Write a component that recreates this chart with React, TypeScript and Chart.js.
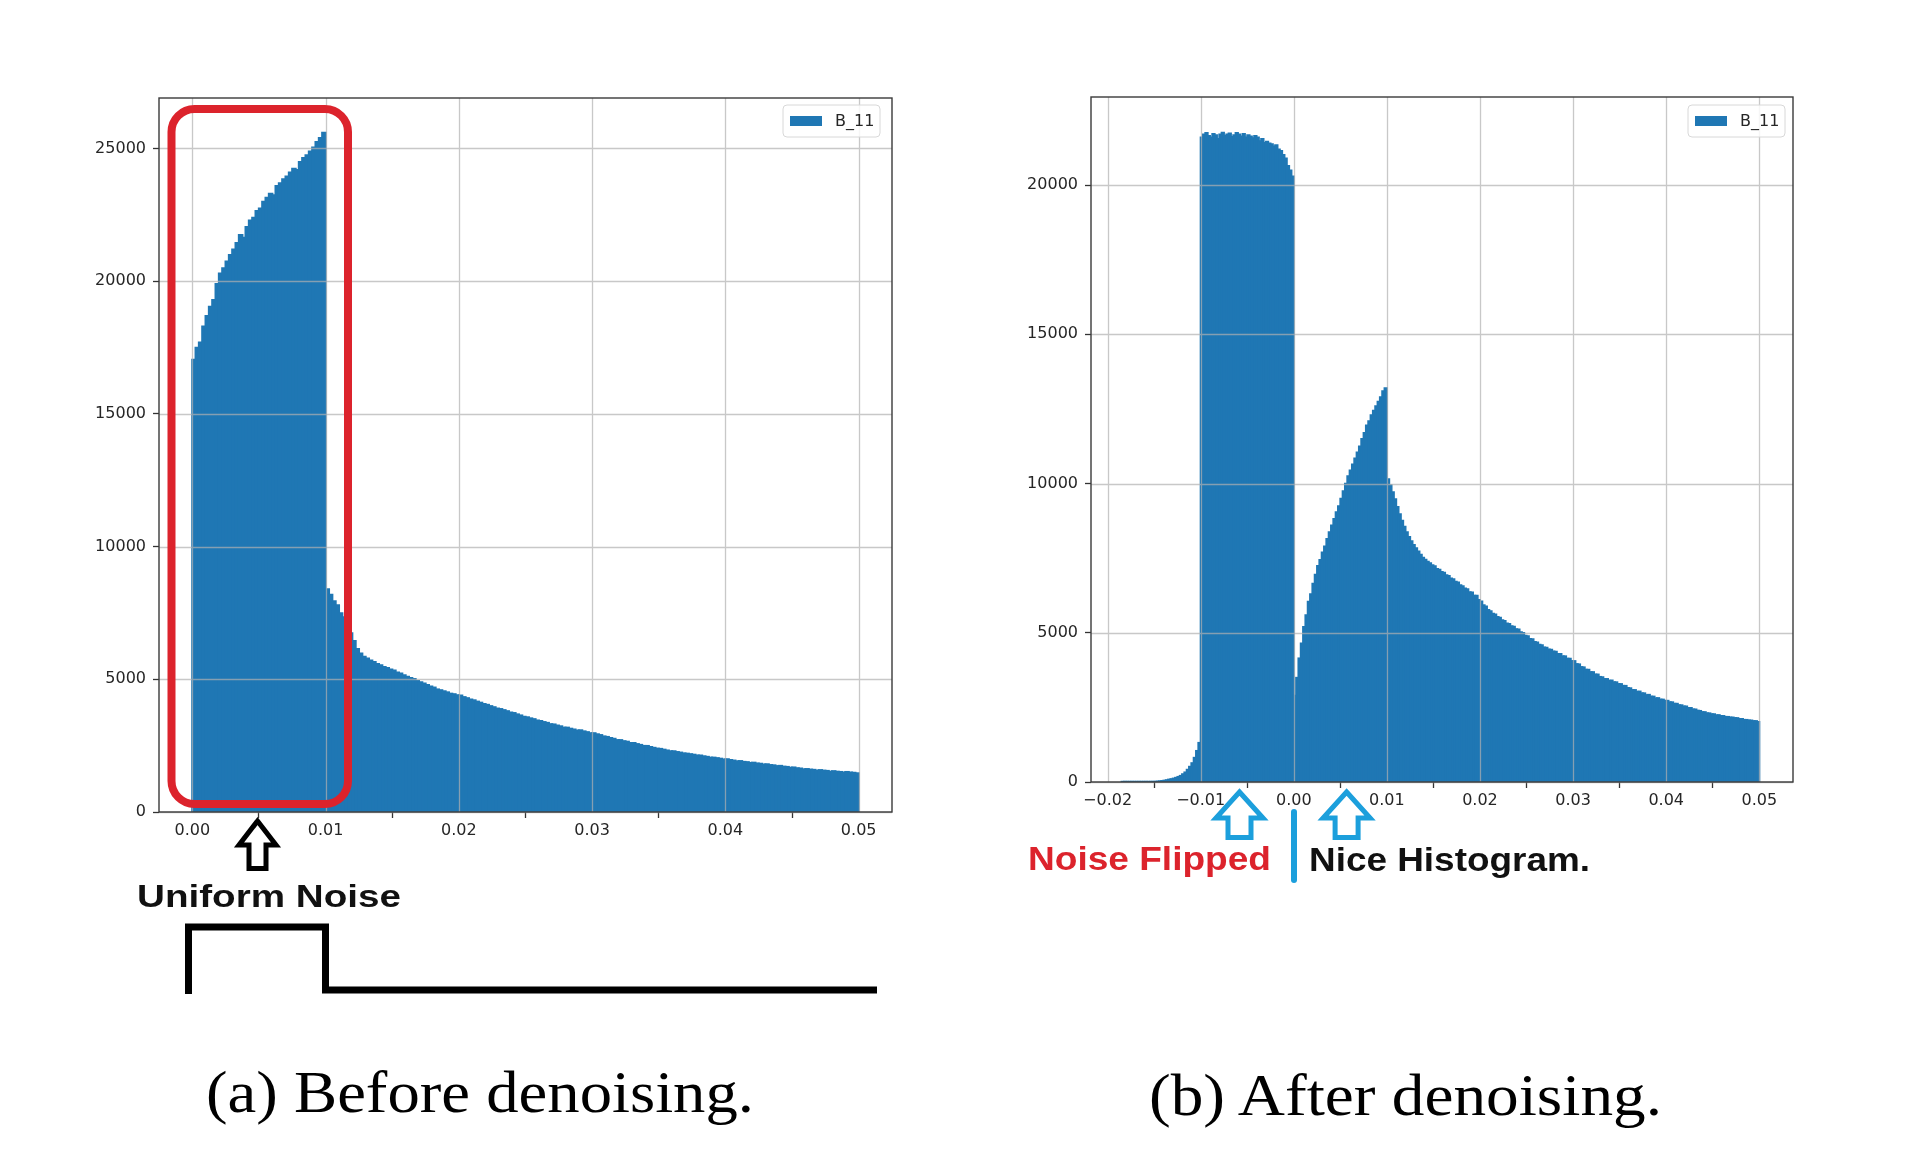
import React, { useEffect, useRef } from 'react';
import { Chart, registerables } from 'chart.js';

Chart.register(...registerables);

// ---------------- data ----------------
const seriesLabel = 'B_11';
const binWidth = 0.00025;

// (a) before denoising: 200 bins from 0.00 to 0.05
const leftFirstEdge = 0;
const leftCounts = [
  // 0.000 - 0.010 (uniform-noise block)
  17050, 17500, 17700, 18300, 18700, 19050, 19300, 19900, 20300, 20500,
  20750, 21000, 21200, 21450, 21750, 21650, 22050, 22300, 22400, 22650,
  22750, 23000, 23150, 23300, 23250, 23600, 23700, 23850, 23950, 24100,
  24250, 24200, 24500, 24650, 24750, 24900, 25050, 25250, 25400, 25600,
  // 0.010 - 0.013
  8400, 8200, 7950, 7800, 7500, 7350, 7050, 6750, 6450, 6150, 5980, 5860,
  // 0.013 - 0.050
  5790, 5720, 5660, 5590, 5540, 5470, 5440, 5380, 5340, 5270,
  5230, 5160, 5110, 5060, 5020, 4950, 4900, 4850, 4800, 4740,
  4700, 4630, 4600, 4560, 4520, 4470, 4450, 4410, 4400, 4340,
  4300, 4250, 4220, 4170, 4130, 4080, 4050, 4000, 3960, 3910,
  3890, 3850, 3810, 3760, 3740, 3690, 3650, 3600, 3580, 3540,
  3510, 3460, 3440, 3400, 3370, 3320, 3310, 3270, 3240, 3190,
  3190, 3150, 3120, 3080, 3090, 3050, 3020, 2980, 2980, 2940,
  2910, 2860, 2840, 2800, 2770, 2720, 2720, 2680, 2660, 2610,
  2610, 2570, 2540, 2500, 2500, 2460, 2430, 2400, 2390, 2360,
  2330, 2300, 2300, 2270, 2250, 2220, 2210, 2190, 2170, 2140,
  2140, 2110, 2090, 2060, 2060, 2040, 2020, 1990, 2000, 1970,
  1950, 1920, 1930, 1900, 1890, 1860, 1870, 1840, 1830, 1800,
  1810, 1780, 1770, 1740, 1750, 1720, 1710, 1680, 1690, 1660,
  1650, 1620, 1630, 1610, 1600, 1570, 1590, 1570, 1560, 1530,
  1550, 1530, 1520, 1500, 1520, 1500, 1490, 1470,
];

// (b) after denoising: 274 bins from -0.0185 to 0.05
const rightFirstEdge = -0.0185;
const rightCounts = [
  // -0.0185 - -0.010 (left tail)
  1, 1, 1, 2, 2, 2, 3, 3, 4, 5, 6, 8, 10, 13, 18, 25, 32,
  42, 55, 70, 90, 105, 125, 150, 180, 215, 270, 330, 420, 520, 640, 820, 1050, 1320,
  // -0.010 - 0.000 (flipped noise block)
  21600, 21700, 21750, 21650, 21600, 21720, 21680, 21550, 21700, 21760,
  21650, 21700, 21740, 21620, 21680, 21750, 21700, 21640, 21720, 21600,
  21680, 21640, 21580, 21650, 21600, 21480, 21550, 21420, 21460, 21400,
  21380, 21300, 21340, 21200, 21150, 21020, 20900, 20650, 20500, 20300,
  // 0.000 - 0.010 (rising part)
  2900, 3500, 4150, 4650, 5200, 5600, 6050, 6300, 6650, 6950,
  7250, 7450, 7700, 7900, 8150, 8380, 8600, 8820, 9050, 9250,
  9500, 9750, 10000, 10250, 10450, 10650, 10850, 11050, 11250, 11500,
  11700, 11950, 12100, 12300, 12450, 12600, 12750, 12900, 13100, 13200,
  // 0.010 - 0.014
  10150, 9950, 9720, 9480, 9220, 8980, 8760, 8560, 8380, 8220, 8080, 7950, 7840, 7730, 7620, 7520,
  // 0.014 - 0.050
  7460, 7390, 7340, 7270, 7240, 7150, 7120, 7050, 7020, 6940,
  6910, 6830, 6800, 6720, 6690, 6600, 6570, 6490, 6470, 6370,
  6360, 6250, 6250, 6110, 6060, 5930, 5890, 5770, 5730, 5650,
  5620, 5540, 5510, 5430, 5400, 5320, 5300, 5230, 5210, 5130,
  5120, 5030, 5000, 4910, 4890, 4800, 4790, 4700, 4680, 4610,
  4590, 4520, 4510, 4450, 4440, 4380, 4370, 4300, 4300, 4220,
  4220, 4140, 4140, 4060, 4060, 3960, 3950, 3860, 3850, 3770,
  3770, 3690, 3690, 3610, 3610, 3530, 3520, 3460, 3460, 3400,
  3410, 3350, 3350, 3290, 3290, 3230, 3230, 3160, 3150, 3090,
  3090, 3030, 3040, 2980, 2980, 2920, 2930, 2870, 2870, 2810,
  2820, 2770, 2770, 2730, 2730, 2680, 2680, 2630, 2630, 2580,
  2580, 2540, 2540, 2490, 2490, 2440, 2440, 2400, 2390, 2350,
  2350, 2310, 2310, 2280, 2280, 2240, 2250, 2220, 2220, 2190,
  2190, 2170, 2170, 2150, 2150, 2120, 2120, 2090, 2090, 2070,
  2070, 2050, 2050, 2020,
];

const leftXTicks = [0, 0.01, 0.02, 0.03, 0.04, 0.05];
const leftYTicks = [0, 5000, 10000, 15000, 20000, 25000];
const rightXTicks = [-0.02, -0.01, 0, 0.01, 0.02, 0.03, 0.04, 0.05];
const rightYTicks = [0, 5000, 10000, 15000, 20000];

const BAR_COLOR = '#1f77b4';
const TICK_FONT = { family: "'DejaVu Sans', sans-serif", size: 16 };

function fmtX(v: number) {
  const s = Math.abs(v).toFixed(2);
  return v < -1e-12 ? '\u2212' + s : s;
}

const overlayPlugin = {
  id: 'mplOverlay',
  afterDatasetsDraw(chart: any, _args: any, opts: any) {
    const { ctx, chartArea: a, scales } = chart;
    ctx.save();
    // grid on top of bars (as in the matplotlib figure)
    ctx.strokeStyle = 'rgba(176,176,176,0.7)';
    ctx.lineWidth = 1.3;
    ctx.beginPath();
    scales.x.ticks.forEach((t: any) => {
      const px = Math.round(scales.x.getPixelForValue(t.value)) + 0.5;
      ctx.moveTo(px, a.top);
      ctx.lineTo(px, a.bottom);
    });
    scales.y.ticks.forEach((t: any) => {
      const py = Math.round(scales.y.getPixelForValue(t.value)) + 0.5;
      ctx.moveTo(a.left, py);
      ctx.lineTo(a.right, py);
    });
    ctx.stroke();
    // frame
    ctx.strokeStyle = '#3a3a3a';
    ctx.lineWidth = 1.4;
    ctx.strokeRect(a.left, a.top, a.right - a.left, a.bottom - a.top);
    // legend
    const bw = 97, bh = 32;
    const bx = a.right - (opts.legendRight ?? 10) - bw;
    const by = a.top + (opts.legendTop ?? 8);
    ctx.beginPath();
    const r = 4;
    ctx.moveTo(bx + r, by);
    ctx.lineTo(bx + bw - r, by);
    ctx.quadraticCurveTo(bx + bw, by, bx + bw, by + r);
    ctx.lineTo(bx + bw, by + bh - r);
    ctx.quadraticCurveTo(bx + bw, by + bh, bx + bw - r, by + bh);
    ctx.lineTo(bx + r, by + bh);
    ctx.quadraticCurveTo(bx, by + bh, bx, by + bh - r);
    ctx.lineTo(bx, by + r);
    ctx.quadraticCurveTo(bx, by, bx + r, by);
    ctx.closePath();
    ctx.fillStyle = 'rgba(255,255,255,0.85)';
    ctx.fill();
    ctx.strokeStyle = '#d8d8d8';
    ctx.lineWidth = 1;
    ctx.stroke();
    const ds = chart.data.datasets[0];
    ctx.fillStyle = ds.backgroundColor;
    ctx.fillRect(bx + 7, by + 11, 32, 10);
    ctx.fillStyle = '#262626';
    ctx.font = "16px 'DejaVu Sans', sans-serif";
    ctx.textBaseline = 'middle';
    ctx.textAlign = 'left';
    ctx.fillText(ds.label, bx + 52, by + bh / 2 + 1);
    ctx.restore();
  },
};

interface HistProps {
  left: number; top: number; width: number; height: number;
  areaLeft: number; areaTop: number; areaRight: number; areaBottom: number;
  firstEdge: number; counts: number[];
  xMin: number; xMax: number; yMax: number;
  xTicks: number[]; yTicks: number[];
  legendRight: number; legendTop: number;
}

function Histogram(p: HistProps) {
  const ref = useRef<HTMLCanvasElement | null>(null);
  useEffect(() => {
    if (!ref.current) return;
    const points = p.counts.map((c, i) => ({ x: p.firstEdge + (i + 0.5) * binWidth, y: c }));
    const yAxisWidth = p.areaLeft - p.left;
    const xAxisHeight = p.top + p.height - p.areaBottom;
    const chart = new Chart(ref.current, {
      type: 'bar',
      data: {
        datasets: [
          {
            label: seriesLabel,
            data: points as any,
            backgroundColor: BAR_COLOR,
            borderWidth: 0,
            inflateAmount: 0.7,
            barPercentage: 1.25,
            categoryPercentage: 1,
          } as any,
        ],
      },
      options: {
        responsive: false,
        animation: false,
        events: [],
        layout: {
          padding: {
            left: 0,
            top: p.areaTop - p.top,
            right: p.left + p.width - p.areaRight,
            bottom: 0,
          },
        },
        plugins: {
          legend: { display: false },
          tooltip: { enabled: false },
          mplOverlay: { legendRight: p.legendRight, legendTop: p.legendTop },
        } as any,
        scales: {
          x: {
            type: 'linear',
            min: p.xMin,
            max: p.xMax,
            offset: false,
            afterBuildTicks: (s: any) => {
              s.ticks = p.xTicks.map((v) => ({ value: v }));
            },
            afterFit: (s: any) => {
              s.height = xAxisHeight;
            },
            grid: {
              drawOnChartArea: false,
              drawTicks: true,
              tickLength: 6,
              tickColor: '#333',
              tickWidth: 1.3,
            },
            border: { display: false },
            ticks: {
              font: TICK_FONT,
              color: '#262626',
              padding: 3,
              maxRotation: 0,
              autoSkip: false,
              callback: (v: any) => fmtX(Number(v)),
            },
          },
          y: {
            type: 'linear',
            min: 0,
            max: p.yMax,
            afterBuildTicks: (s: any) => {
              s.ticks = p.yTicks.map((v) => ({ value: v }));
            },
            afterFit: (s: any) => {
              s.width = yAxisWidth;
            },
            grid: {
              drawOnChartArea: false,
              drawTicks: true,
              tickLength: 6,
              tickColor: '#333',
              tickWidth: 1.3,
            },
            border: { display: false },
            ticks: {
              font: TICK_FONT,
              color: '#262626',
              padding: 7,
              autoSkip: false,
              callback: (v: any) => String(v),
            },
          },
        },
      },
      plugins: [overlayPlugin],
    });
    return () => chart.destroy();
  }, []);
  return (
    <canvas
      ref={ref}
      width={p.width}
      height={p.height}
      style={{ position: 'absolute', left: p.left, top: p.top, width: p.width, height: p.height }}
    />
  );
}

function Arrow({ cx, tip, base, bottom, hw, sw, color, strokeWidth }: any) {
  const pts = [
    [cx, tip], [cx + hw, base], [cx + sw, base], [cx + sw, bottom],
    [cx - sw, bottom], [cx - sw, base], [cx - hw, base],
  ].map((q) => q.join(',')).join(' ');
  return <polygon points={pts} fill="#fff" stroke={color} strokeWidth={strokeWidth} strokeLinejoin="miter" />;
}

export default function App() {
  const sans = "'Liberation Sans', Arial, sans-serif";
  const serif = "'Liberation Serif', 'Times New Roman', serif";
  const BLUE = '#1c9fdc';
  const RED = '#dc232c';
  return (
    <div style={{ position: 'absolute', left: 0, top: 0, width: 1920, height: 1166, background: '#fff', overflow: 'hidden' }}>
      <Histogram
        left={40} top={50} width={880} height={840}
        areaLeft={159} areaTop={98} areaRight={892} areaBottom={812}
        firstEdge={leftFirstEdge} counts={leftCounts}
        xMin={-0.0025} xMax={0.0525} yMax={26900}
        xTicks={leftXTicks} yTicks={leftYTicks}
        legendRight={12} legendTop={7}
      />
      <Histogram
        left={1000} top={50} width={880} height={840}
        areaLeft={1091} areaTop={97} areaRight={1793} areaBottom={782}
        firstEdge={rightFirstEdge} counts={rightCounts}
        xMin={-0.02178} xMax={0.05362} yMax={22950}
        xTicks={rightXTicks} yTicks={rightYTicks}
        legendRight={8} legendTop={8}
      />
      <svg width={1920} height={1166} style={{ position: 'absolute', left: 0, top: 0, pointerEvents: 'none' }}>
        {/* red highlight box */}
        <rect x={171.5} y={109} width={176.5} height={695} rx={23} ry={23} fill="none" stroke={RED} strokeWidth={8} />
        {/* black arrow + label */}
        <Arrow cx={257.5} tip={821} base={845} bottom={868.5} hw={18.5} sw={8.5} color="#000" strokeWidth={5} />
        <text x={137} y={907} fontFamily={sans} fontWeight="bold" fontSize={31} fill="#111" textLength={264} lengthAdjust="spacingAndGlyphs">Uniform Noise</text>
        {/* step function sketch */}
        <polyline points="188.5,994 188.5,927 325.5,927 325.5,990 877,990" fill="none" stroke="#000" strokeWidth={7} strokeLinejoin="miter" />
        {/* captions */}
        <text x={206} y={1112} fontFamily={serif} fontSize={60} fill="#000" textLength={548} lengthAdjust="spacingAndGlyphs">(a) Before denoising.</text>
        <text x={1149} y={1115} fontFamily={serif} fontSize={60} fill="#000" textLength={513} lengthAdjust="spacingAndGlyphs">(b) After denoising.</text>
        {/* blue arrows */}
        <Arrow cx={1239.5} tip={792} base={818} bottom={837.5} hw={23.5} sw={11.5} color={BLUE} strokeWidth={5} />
        <Arrow cx={1346.6} tip={792} base={818} bottom={837.5} hw={23.5} sw={11.5} color={BLUE} strokeWidth={5} />
        <line x1={1294} y1={812} x2={1294} y2={880} stroke={BLUE} strokeWidth={6} strokeLinecap="round" />
        <text x={1028} y={870} fontFamily={sans} fontWeight="bold" fontSize={33} fill={RED} textLength={243} lengthAdjust="spacingAndGlyphs">Noise Flipped</text>
        <text x={1309} y={871} fontFamily={sans} fontWeight="bold" fontSize={33} fill="#111" textLength={281} lengthAdjust="spacingAndGlyphs">Nice Histogram.</text>
      </svg>
    </div>
  );
}
